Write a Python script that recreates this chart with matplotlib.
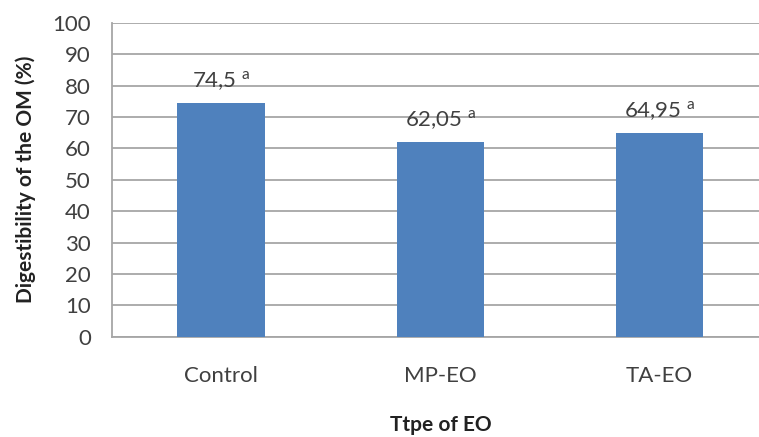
import matplotlib
matplotlib.use("Agg")
import matplotlib.pyplot as plt

plt.rcParams["font.family"] = ["Lato", "DejaVu Sans"]
plt.rcParams["mathtext.fontset"] = "custom"
plt.rcParams["mathtext.rm"] = "Lato"

# ── data ──────────────────────────────────────────
categories = ["Control", "MP-EO", "TA-EO"]
values = [74.5, 62.05, 64.95]
value_text = ["74,5", "62,05", "64,95"]
letters = ["a", "a", "a"]
yticks = list(range(0, 101, 10))

BAR = "#4f81bd"
GRID = "#a6a6a6"
TXT = "#404040"

fig = plt.figure(figsize=(7.59, 4.37), dpi=100)
ax = fig.add_axes([0.1472, 0.2295, 0.866, 0.7185])

x = range(len(categories))
ax.bar(x, values, width=0.4, color=BAR, zorder=3)

for xi, v, t, l in zip(x, values, value_text, letters):
    ax.annotate(f"{t} $^{{\\mathrm{{{l}}}}}$", (xi, v), xytext=(0, 7),
                textcoords="offset points", ha="center", va="bottom",
                fontsize=16, color=TXT, zorder=4)

ax.set_xlim(-0.5, 2.5)
ax.set_ylim(0, 100)
ax.set_yticks(yticks)
ax.set_xticks(list(x))
ax.set_xticklabels(categories)
ax.tick_params(axis="both", length=0, labelsize=16, colors=TXT)
ax.tick_params(axis="y", pad=15)
ax.tick_params(axis="x", pad=21)

ax.grid(axis="y", color=GRID, linewidth=1.3, zorder=0)
for side in ["top", "right"]:
    ax.spines[side].set_visible(False)
for side in ["left", "bottom"]:
    ax.spines[side].set_color(GRID)
    ax.spines[side].set_linewidth(1.3)

ax.set_ylabel("Digestibility of the OM (%)", fontsize=15, fontweight="bold",
              color="#222222", labelpad=12)
ax.set_xlabel("Ttpe of EO", fontsize=15, fontweight="bold",
              color="#222222", labelpad=21)

fig.savefig("out.png", dpi=100)
